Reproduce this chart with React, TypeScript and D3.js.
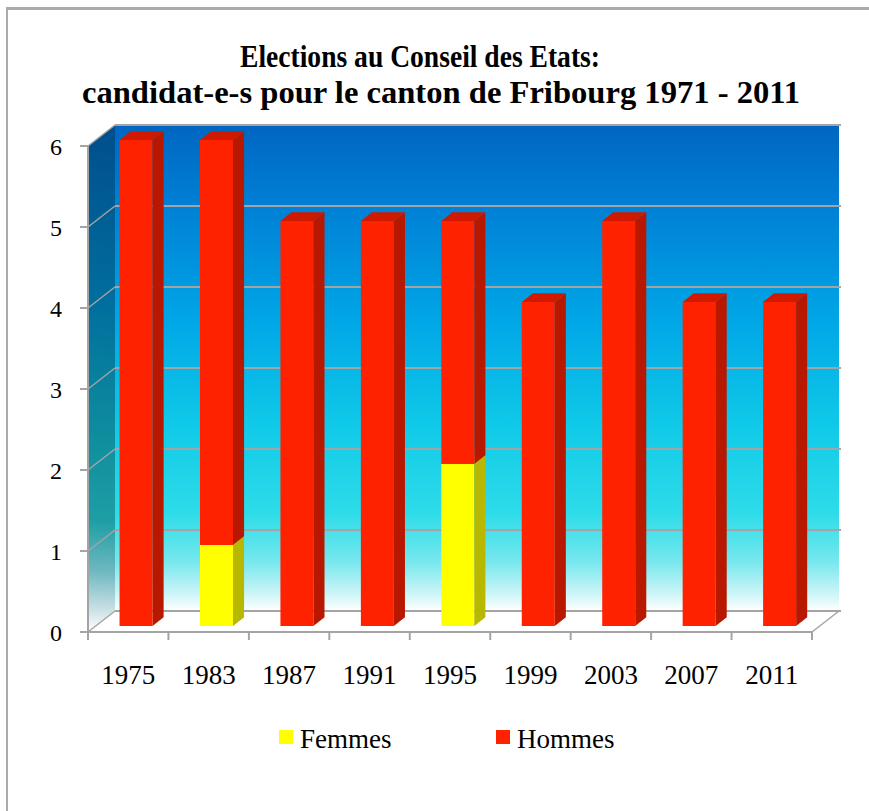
import React from "react";
import * as d3 from "d3";

const years = ["1975", "1983", "1987", "1991", "1995", "1999", "2003", "2007", "2011"];
const femmes = [0, 1, 0, 0, 2, 0, 0, 0, 0];
const hommes = [6, 5, 5, 5, 3, 4, 5, 4, 4];
const yTicks = [0, 1, 2, 3, 4, 5, 6];
const titleLines = ["Elections au Conseil des Etats:", "candidat-e-s pour le canton de Fribourg 1971 - 2011"];
const seriesNames = ["Femmes", "Hommes"];

const W = 869;
const H = 811;
const DX = 27;
const DY = 21;
const Z0 = 0.29;
const Z1 = 0.7;
const SERIF = "'Liberation Serif', 'Times New Roman', 'DejaVu Serif', serif";

const colors = {
  Femmes: { front: "#ffff00", side: "#b8b800", top: "#e2e200" },
  Hommes: { front: "#ff2200", side: "#b81800", top: "#d01a00" },
};

export default function App() {
  const x = d3.scaleBand<string>().domain(years).range([88, 812]).paddingInner(0).paddingOuter(0);
  const y = d3.scaleLinear().domain([0, 6]).range([632, 146]);
  const bw = x.bandwidth();
  const barW = 33;

  const P = (px: number, v: number, z: number): [number, number] => [px + z * DX, y(v) - z * DY];
  const poly = (pts: [number, number][]) => pts.map((p) => p.join(",")).join(" ");

  const grid = "#a4a4a4";
  const ts = { fontFamily: SERIF } as React.CSSProperties;

  const segs: { key: string; x0: number; x1: number; v0: number; v1: number; c: { front: string; side: string; top: string } }[] = [];
  years.forEach((yr, i) => {
    const x0 = (x(yr) as number) + (bw - barW) / 2;
    const x1 = x0 + barW;
    let base = 0;
    const vals = [femmes[i], hommes[i]];
    vals.forEach((v, si) => {
      if (v > 0) {
        segs.push({ key: yr + si, x0, x1, v0: base, v1: base + v, c: (colors as any)[seriesNames[si]] });
      }
      base += v;
    });
  });

  const backTop = y(6) - DY;
  const backBot = y(0) - DY;

  return (
    <svg width={W} height={H} style={{ position: "absolute", left: 0, top: 0, background: "#fff" }}>
      <defs>
        <linearGradient id="backG" gradientUnits="userSpaceOnUse" x1="0" y1={backTop} x2="0" y2={backBot}>
          <stop offset="0" stopColor="#0066c2" />
          <stop offset="0.18" stopColor="#0082d6" />
          <stop offset="0.4" stopColor="#00a6e6" />
          <stop offset="0.62" stopColor="#10cae8" />
          <stop offset="0.8" stopColor="#2edce8" />
          <stop offset="0.9" stopColor="#78e8ee" />
          <stop offset="0.97" stopColor="#d4f6f8" />
          <stop offset="1" stopColor="#ffffff" />
        </linearGradient>
        <linearGradient id="leftG" gradientUnits="userSpaceOnUse" x1="115" y1={backTop} x2="88" y2={y(0)}>
          <stop offset="0" stopColor="#004e8c" />
          <stop offset="0.35" stopColor="#006e9e" />
          <stop offset="0.62" stopColor="#0f8e9e" />
          <stop offset="0.78" stopColor="#1e9ea4" />
          <stop offset="0.88" stopColor="#70b8c0" />
          <stop offset="0.96" stopColor="#d0e4e8" />
          <stop offset="1" stopColor="#ffffff" />
        </linearGradient>
      </defs>

      {/* outer frame */}
      <rect x={7} y={7} width={W - 7} height={3} fill="#aaaaaa" />
      <rect x={6} y={7} width={2} height={H - 7} fill="#aaaaaa" />

      {/* title */}
      <text x={240} y={67} fontSize={32} fontWeight="bold" textLength={360} lengthAdjust="spacingAndGlyphs" fill="#000" style={ts}>
        {titleLines[0]}
      </text>
      <text x={82} y={103} fontSize={32} fontWeight="bold" textLength={718} lengthAdjust="spacingAndGlyphs" fill="#000" style={ts}>
        {titleLines[1]}
      </text>

      {/* back wall */}
      <rect x={88 + DX} y={backTop} width={812 - 88} height={backBot - backTop} fill="url(#backG)" />
      {/* left wall */}
      <polygon points={poly([P(88, 6, 0), P(88, 6, 1), P(88, 0, 1), P(88, 0, 0)])} fill="url(#leftG)" />
      {/* floor */}
      <polygon points={poly([P(88, 0, 0), P(812, 0, 0), P(812, 0, 1), P(88, 0, 1)])} fill="#ffffff" />

      {/* gridlines */}
      {yTicks.map((v) => (
        <g key={"g" + v}>
          <line x1={88 + DX} x2={812 + DX + 2} y1={y(v) - DY} y2={y(v) - DY} stroke={grid} strokeWidth={2} />
          <line x1={88} y1={y(v)} x2={88 + DX} y2={y(v) - DY} stroke={grid} strokeWidth={1.5} />
          <line x1={80} x2={88} y1={y(v)} y2={y(v)} stroke={grid} strokeWidth={2} />
        </g>
      ))}
      <line x1={88} x2={88} y1={y(6)} y2={y(0) + 8} stroke={grid} strokeWidth={2} />
      <line x1={88} x2={812} y1={y(0)} y2={y(0)} stroke={grid} strokeWidth={2} />
      <line x1={812} y1={y(0)} x2={812 + DX} y2={y(0) - DY} stroke={grid} strokeWidth={1.5} />
      {years.map((yr) => (
        <line key={"t" + yr} x1={(x(yr) as number) + bw} x2={(x(yr) as number) + bw} y1={y(0)} y2={y(0) + 8} stroke={grid} strokeWidth={2} />
      ))}

      {/* bars */}
      {segs.map((s) => (
        <g key={s.key}>
          <polygon points={poly([P(s.x0, s.v0, Z0), P(s.x1, s.v0, Z0), P(s.x1, s.v1, Z0), P(s.x0, s.v1, Z0)])} fill={s.c.front} />
          <polygon points={poly([P(s.x1, s.v0, Z0), P(s.x1, s.v0, Z1), P(s.x1, s.v1, Z1), P(s.x1, s.v1, Z0)])} fill={s.c.side} />
          <polygon points={poly([P(s.x0, s.v1, Z0), P(s.x1, s.v1, Z0), P(s.x1, s.v1, Z1), P(s.x0, s.v1, Z1)])} fill={s.c.top} />
        </g>
      ))}

      {/* y labels */}
      {yTicks.map((v) => (
        <text key={"yl" + v} x={56} y={y(v) + 9} fontSize={24} textAnchor="middle" fill="#000" style={ts}>
          {v}
        </text>
      ))}

      {/* x labels */}
      {years.map((yr) => (
        <text key={"xl" + yr} x={(x(yr) as number) + bw / 2} y={684} fontSize={27} textAnchor="middle" fill="#000" style={ts}>
          {yr}
        </text>
      ))}

      {/* legend */}
      <rect x={279} y={730} width={14} height={14} fill={colors.Femmes.front} />
      <text x={300} y={748} fontSize={27} fill="#000" style={ts}>{seriesNames[0]}</text>
      <rect x={496} y={730} width={14} height={14} fill={colors.Hommes.front} />
      <text x={517} y={748} fontSize={27} fill="#000" style={ts}>{seriesNames[1]}</text>
    </svg>
  );
}
